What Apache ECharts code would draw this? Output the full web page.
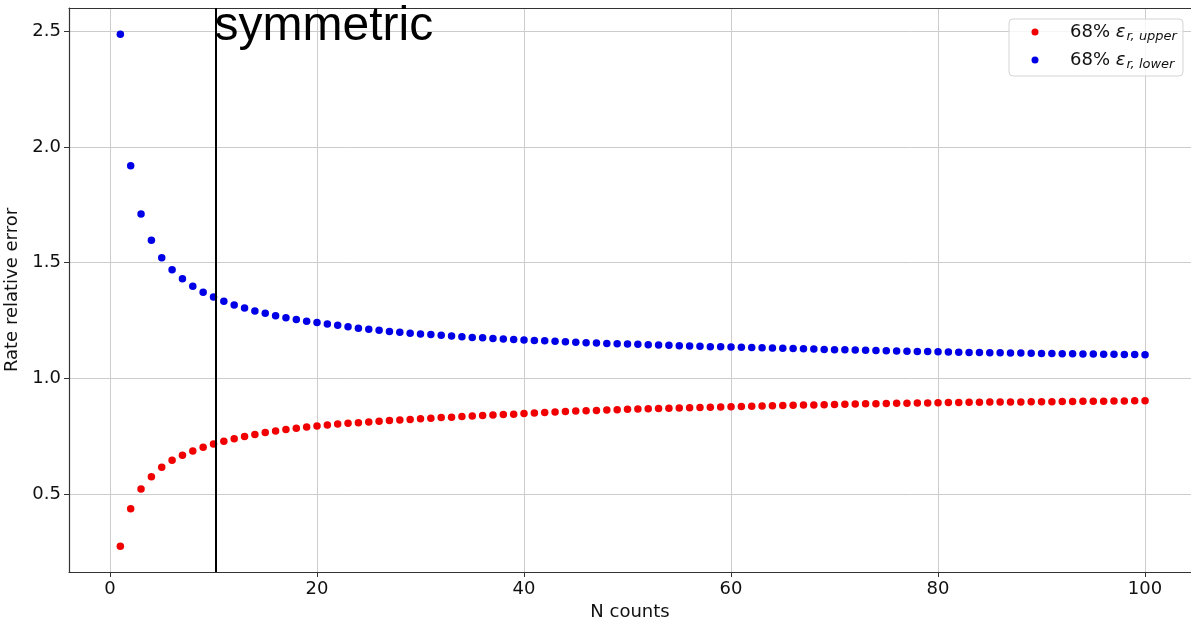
<!DOCTYPE html>
<html><head><meta charset="utf-8">
<script src="https://cdn.jsdelivr.net/npm/echarts@6/dist/echarts.min.js"></script>
<style>html,body{margin:0;padding:0;background:#fff}#c{width:1191px;height:619px}</style>
</head><body><div id="c"></div>
<script>
// N counts (x values)
const nCounts = [1,2,3,4,5,6,7,8,9,10,11,12,13,14,15,16,17,18,19,20,
21,22,23,24,25,26,27,28,29,30,31,32,33,34,35,36,37,38,39,40,
41,42,43,44,45,46,47,48,49,50,51,52,53,54,55,56,57,58,59,60,
61,62,63,64,65,66,67,68,69,70,71,72,73,74,75,76,77,78,79,80,
81,82,83,84,85,86,87,88,89,90,91,92,93,94,95,96,97,98,99,100];

// 68% eps_{r,upper} (red)
const upper68 = [0.273,0.436,0.521,0.574,0.615,0.645,0.667,0.686,0.702,0.716,
0.728,0.739,0.748,0.757,0.765,0.772,0.778,0.784,0.789,0.794,
0.798,0.802,0.805,0.808,0.811,0.814,0.817,0.820,0.822,0.825,
0.827,0.830,0.832,0.835,0.837,0.839,0.841,0.843,0.845,0.848,
0.850,0.852,0.854,0.856,0.858,0.860,0.861,0.863,0.864,0.866,
0.867,0.868,0.869,0.870,0.871,0.873,0.874,0.875,0.876,0.877,
0.878,0.879,0.880,0.881,0.882,0.883,0.884,0.885,0.886,0.887,
0.888,0.889,0.890,0.890,0.891,0.892,0.892,0.893,0.893,0.894,
0.895,0.895,0.896,0.896,0.897,0.897,0.898,0.898,0.899,0.899,
0.899,0.900,0.900,0.901,0.901,0.901,0.902,0.902,0.903,0.903];

// 68% eps_{r,lower} (blue)
const lower68 = [2.488,1.920,1.711,1.597,1.522,1.470,1.431,1.398,1.372,1.352,
1.333,1.317,1.304,1.291,1.281,1.271,1.262,1.254,1.247,1.241,
1.235,1.229,1.223,1.217,1.212,1.208,1.203,1.199,1.195,1.192,
1.189,1.186,1.183,1.180,1.177,1.175,1.172,1.170,1.168,1.166,
1.164,1.162,1.160,1.158,1.156,1.154,1.153,1.151,1.150,1.148,
1.147,1.145,1.144,1.143,1.141,1.140,1.139,1.137,1.136,1.135,
1.134,1.133,1.132,1.131,1.130,1.129,1.128,1.127,1.125,1.124,
1.123,1.122,1.121,1.120,1.119,1.118,1.117,1.116,1.116,1.115,
1.114,1.113,1.112,1.112,1.111,1.110,1.109,1.109,1.108,1.107,
1.107,1.106,1.106,1.105,1.105,1.104,1.104,1.103,1.103,1.102];

const xTicks = [0,20,40,60,80,100];
const yTicks = [0.5,1.0,1.5,2.0,2.5];
const symmetricN = 10.2;
const seriesNames = ['upper','lower'];
const seriesColors = ['#f00000','#0000e6'];

const FONT = '"DejaVu Sans", sans-serif';
const X_MIN = -3.96, X_MAX = 104.44, Y_MIN = 0.162, Y_MAX = 2.602;

const chart = echarts.init(document.getElementById('c'), null, {renderer:'canvas'});
const pairs = (ys) => nCounts.map((n,i) => [n, ys[i]]);

const axisText = {color:'#111', fontSize:18, fontFamily:FONT};
const gridLine = {show:true, lineStyle:{color:'#cccccc', width:1}};

chart.setOption({
  animation:false,
  backgroundColor:'#fff',
  grid:{left:69, right:0, top:8, bottom:47, containLabel:false, outerBoundsMode:'none'},
  xAxis:[{
    type:'value', min:X_MIN, max:X_MAX,
    name:'N counts', nameLocation:'middle', nameGap:26,
    nameTextStyle:{color:'#111', fontSize:18, fontFamily:FONT},
    axisLine:{show:true, onZero:false, lineStyle:{color:'#333', width:1.2}},
    axisTick:{show:true, length:5, customValues:xTicks, lineStyle:{color:'#333'}},
    axisLabel:Object.assign({customValues:xTicks, margin:8}, axisText),
    splitLine:gridLine
  },{
    type:'value', min:X_MIN, max:X_MAX, position:'top',
    axisLine:{show:true, onZero:false, lineStyle:{color:'#333', width:1.2}},
    axisTick:{show:false}, axisLabel:{show:false}, splitLine:{show:false}
  }],
  yAxis:{
    type:'value', min:Y_MIN, max:Y_MAX,
    name:'Rate relative error', nameLocation:'middle', nameGap:42,
    nameTextStyle:{color:'#111', fontSize:18, fontFamily:FONT},
    axisLine:{show:true, onZero:false, lineStyle:{color:'#333', width:1.2}},
    axisTick:{show:true, length:5, customValues:yTicks, lineStyle:{color:'#333'}},
    axisLabel:Object.assign({customValues:yTicks, margin:8, formatter:(v)=>v.toFixed(1)}, axisText),
    splitLine:gridLine
  },
  legend:{
    left:1009, top:19, orient:'vertical',
    padding:[4,6,4,4], itemGap:7, itemWidth:1, itemHeight:1, icon:'none',
    backgroundColor:'rgba(255,255,255,0.8)', borderColor:'#d4d4d4', borderWidth:1, borderRadius:4,
    data:seriesNames,
    formatter:(name)=>'{q|\u00a0}{d' + seriesNames.indexOf(name) + '|\u00a0}{g|\u00a0}{n|68% }{e|ε}{s|r, ' + name + '}',
    textStyle:{
      rich:{
        q:{width:12.5, lineHeight:24},
        d0:{width:7, height:7, backgroundColor:seriesColors[0], borderRadius:3.5, fontSize:4},
        d1:{width:7, height:7, backgroundColor:seriesColors[1], borderRadius:3.5, fontSize:4},
        g:{width:31.5, lineHeight:24},
        n:{fontSize:18, fontFamily:FONT, color:'#111', lineHeight:24},
        e:{fontSize:18, fontFamily:FONT, fontStyle:'italic', color:'#111', lineHeight:24},
        s:{fontSize:13, fontFamily:FONT, fontStyle:'italic', color:'#111', lineHeight:14, verticalAlign:'bottom', padding:[0,0,1,1]}
      }
    }
  },
  series:[{
    name:seriesNames[0], type:'scatter', symbol:'circle', symbolSize:7.5,
    itemStyle:{color:seriesColors[0], opacity:1},
    data:pairs(upper68),
    markLine:{
      silent:true, symbol:'none', animation:false,
      lineStyle:{color:'#000', width:2, type:'solid'},
      label:{show:false},
      data:[{xAxis:symmetricN}]
    }
  },{
    name:seriesNames[1], type:'scatter', symbol:'circle', symbolSize:7.5,
    itemStyle:{color:seriesColors[1], opacity:1},
    data:pairs(lower68)
  }],
  graphic:[{
    type:'text', x:214.5, y:26.5, z:100,
    style:{text:'symmetric', font:'48px "Liberation Sans", Arial, sans-serif', fill:'#000', verticalAlign:'middle'}
  }]
});
</script>
</body></html>
